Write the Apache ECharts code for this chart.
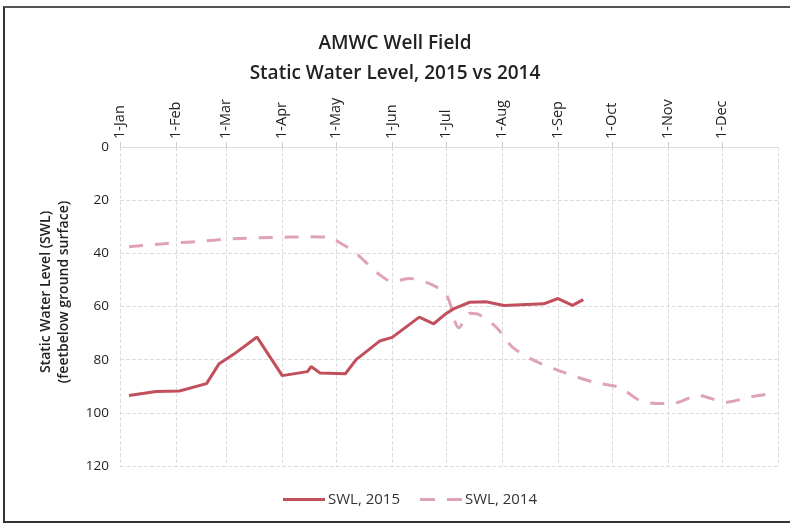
<!DOCTYPE html>
<html>
<head>
<meta charset="utf-8">
<title>AMWC Well Field</title>
<script src="https://cdn.jsdelivr.net/npm/echarts@6/dist/echarts.min.js"></script>
<style>
    html, body { margin: 0; padding: 0; background: #fff; }
    #frame {
        position: absolute; left: 3px; top: 6px; width: 800px; height: 513px;
        border-left: 2px solid #333; border-top: 2px solid #555; border-bottom: 2px solid #333;
    }
    #main { position: absolute; left: 0; top: 0; width: 790px; height: 527px; }
</style>
</head>
<body>
<div id="frame"></div>
<div id="main"></div>
<script type="text/javascript">
    // 2015 readings (feet below ground surface)
    var dates2015 = ['2015-01-06','2015-01-21','2015-02-03','2015-02-18','2015-02-25','2015-03-05','2015-03-18',
        '2015-04-01','2015-04-15','2015-04-17','2015-04-22','2015-05-06','2015-05-12','2015-05-25','2015-06-01',
        '2015-06-16','2015-06-24','2015-07-01','2015-07-05','2015-07-14','2015-07-23','2015-08-02','2015-08-24',
        '2015-09-01','2015-09-09','2015-09-15'];
    var swl2015 = [93.5, 92, 91.8, 89, 81.5, 78, 71.5,
        86, 84.5, 82.6, 85, 85.3, 80, 73, 71.6,
        64, 66.5, 62.6, 60.9, 58.4, 58.2, 59.6, 59,
        57, 59.6, 57.4];

    // 2014 readings, put on the same Jan-Dec axis
    var dates2014 = ['2015-01-06','2015-01-27','2015-02-14','2015-03-05','2015-03-27','2015-04-15','2015-04-27',
        '2015-05-03','2015-05-12','2015-05-24','2015-06-01','2015-06-11','2015-06-22','2015-07-01','2015-07-08',
        '2015-07-14','2015-07-19','2015-07-29','2015-08-07','2015-08-21','2015-09-05','2015-09-21','2015-10-05',
        '2015-10-19','2015-11-03','2015-11-18','2015-12-03','2015-12-17','2015-12-31'];
    var swl2014 = [37.5, 36.3, 35.5, 34.5, 34, 33.8, 34,
        36, 40, 47.5, 50.5, 49.5, 51.5, 55.5, 68,
        62.5, 63, 68, 75.5, 81, 85, 88.5, 90.5,
        96, 96.5, 93.5, 96, 94, 92.5];

    var monthNames = ['Jan','Feb','Mar','Apr','May','Jun','Jul','Aug','Sep','Oct','Nov','Dec'];

    function pairs(d, v) {
        var out = [];
        for (var i = 0; i < d.length; i++) out.push([d[i], v[i]]);
        return out;
    }

    var myChart = echarts.init(document.getElementById('main'));
    var option = {
        animation: false,
        textStyle: { fontFamily: 'Open Sans' },
        title: {
            text: 'AMWC Well Field\nStatic Water Level, 2015 vs 2014',
            left: 'center',
            top: 24,
            textStyle: { fontSize: 19, fontWeight: 600, color: '#222', lineHeight: 30, fontFamily: 'Open Sans' }
        },
        graphic: [{
            type: 'text',
            x: 55,
            y: 292,
            rotation: Math.PI / 2,
            style: {
                text: 'Static Water Level (SWL)\n(feetbelow ground surface)',
                fill: '#222',
                font: '600 14px "Open Sans"',
                lineHeight: 18,
                align: 'center',
                verticalAlign: 'middle'
            }
        }],
        grid: { left: 120, right: 12, top: 147, bottom: 61 },
        legend: {
            top: 487,
            left: 278,
            itemWidth: 42,
            itemHeight: 3,
            itemGap: 20,
            textStyle: { fontSize: 15, color: '#333', padding: [0, 0, 0, -2] },
            data: [
                { name: 'SWL, 2015', icon: 'path://M0,0h42v3h-42z' },
                { name: 'SWL, 2014', icon: 'path://M0,0h15v3h-15z M27,0h15v3h-15z' }
            ]
        },
        xAxis: {
            type: 'time',
            position: 'top',
            min: '2015-01-01',
            max: '2016-01-01',
            splitNumber: 12,
            minInterval: 28 * 86400000,
            maxInterval: 31 * 86400000,
            axisLine: { show: true, lineStyle: { color: '#ddd' } },
            axisTick: { show: true, lineStyle: { color: '#ccc' } },
            axisLabel: {
                rotate: 90,
                fontSize: 14.5,
                color: '#222',
                margin: 8,
                formatter: function (v) {
                    var d = new Date(v);
                    if (d.getFullYear() > 2015) return '';
                    return d.getDate() + '-' + monthNames[d.getMonth()];
                }
            },
            splitLine: { show: true, lineStyle: { color: '#ddd', type: 'dashed' } }
        },
        yAxis: {
            type: 'value',
            inverse: true,
            min: 0,
            max: 120,
            interval: 20,
            axisLine: { show: false },
            axisTick: { show: false },
            axisLabel: { fontSize: 13.5, color: '#222', margin: 11 },
            splitLine: { show: true, lineStyle: { color: '#ddd', type: 'dashed' } }
        },
        series: [
            {
                name: 'SWL, 2015',
                type: 'line',
                symbol: 'none',
                data: pairs(dates2015, swl2015),
                lineStyle: { color: '#c24f5c', width: 3 },
                itemStyle: { color: '#c24f5c' },
                z: 3
            },
            {
                name: 'SWL, 2014',
                type: 'line',
                symbol: 'none',
                smooth: 0.3,
                data: pairs(dates2014, swl2014),
                lineStyle: { color: '#dfa3b3', width: 3, type: [14, 12] },
                itemStyle: { color: '#dfa3b3' },
                z: 2
            }
        ]
    };

    myChart.setOption(option);
</script>
</body>
</html>
